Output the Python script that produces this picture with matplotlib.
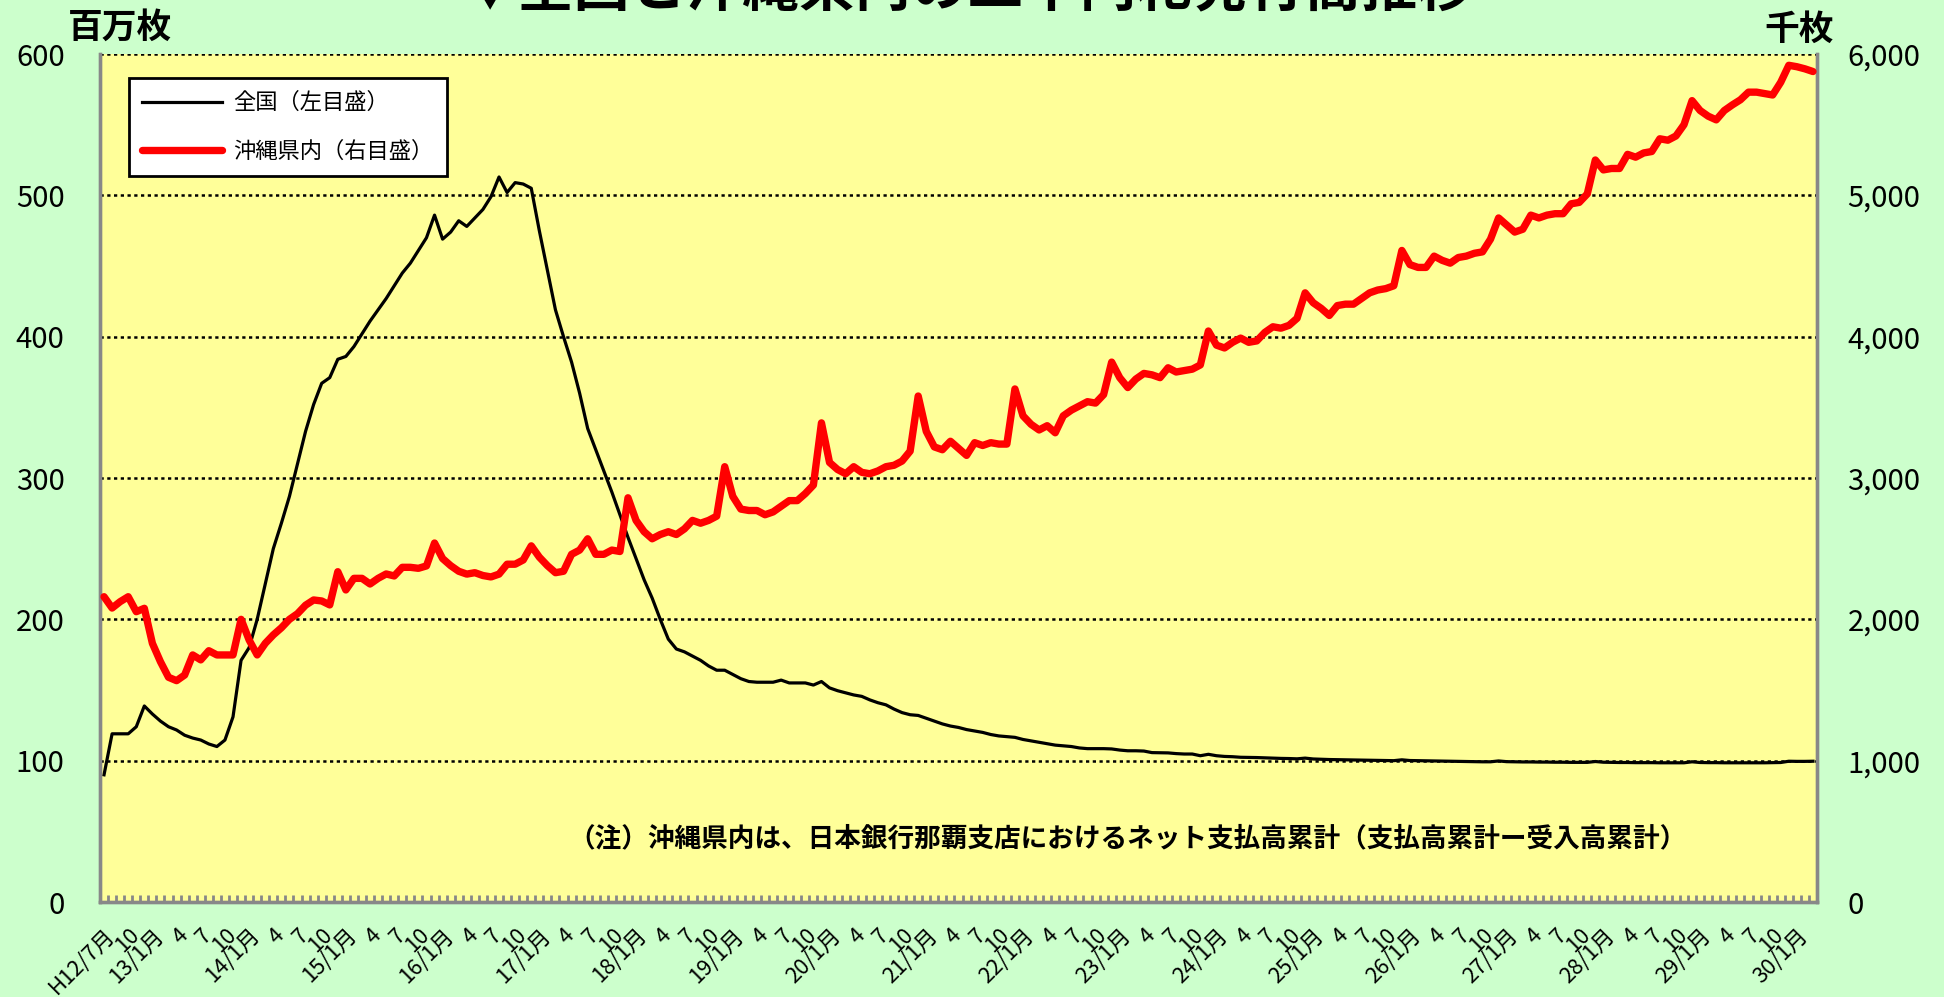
import numpy as np
import matplotlib
matplotlib.use("Agg")
import matplotlib.pyplot as plt
from matplotlib.lines import Line2D

plt.rcParams['font.family'] = ['Noto Sans CJK JP', 'DejaVu Sans']

# ---------------- data ----------------
start_year_heisei = 12   # H12
start_month = 7
n_months = 213           # H12/7 .. H30/3

# 全国 (左目盛, 百万枚)
national = [
    90, 119, 119, 119, 124, 138.7, 133, 128, 124, 121.7, 118, 116, 114.6, 111.8, 110, 114.6, 131,
    171, 180, 200, 225, 250, 268, 287, 310, 333, 352, 367, 371,
    384, 386, 393, 402, 411, 419, 427, 436, 445, 452, 461, 470,
    486, 469, 474, 482, 478, 484, 490, 499, 513, 502, 509, 508,
    505, 475, 447, 419, 400, 382, 360, 335, 320, 305, 290, 274,
    258, 243, 228, 215, 200, 186, 179, 177, 174, 171, 167, 164,
    164, 161, 158, 156, 155.5, 155.5, 155.5, 157, 155, 155, 155, 153.5,
    156, 151.5, 149.5, 148, 146.5, 145.5, 143, 141, 139.5, 136.5, 134, 132.5,
    132, 130, 128, 126, 124.5, 123.5, 122, 121, 120, 118.5, 117.5, 117,
    116.5, 115, 114, 113, 112, 111, 110.5, 110, 109, 108.5, 108.5, 108.5,
    108.3, 107.5, 107, 107, 106.8, 105.7, 105.6, 105.5, 105, 104.7, 104.7, 103.5,
    104.5, 103.5, 103, 102.8, 102.4, 102.3, 102.2, 102, 101.8, 101.6, 101.5, 101.3,
    101.8, 101.2, 101, 100.8, 100.7, 100.6, 100.5, 100.4, 100.3, 100.2, 100.1, 100,
    100.6, 100.1, 100, 99.9, 99.8, 99.7, 99.6, 99.5, 99.4, 99.3, 99.2, 99.2,
    99.8, 99.3, 99.2, 99.1, 99.1, 99.0, 99.0, 98.9, 98.9, 98.8, 98.8, 98.8,
    99.4, 98.9, 98.8, 98.7, 98.7, 98.6, 98.6, 98.6, 98.5, 98.5, 98.5, 98.5,
    99.2, 98.7, 98.6, 98.6, 98.5, 98.5, 98.5, 98.5, 98.5, 98.5, 98.6, 98.7,
    99.6, 99.5, 99.5, 99.6,
]

# 沖縄県内 (右目盛, 千枚)
okinawa = [
    2160, 2080, 2125, 2160, 2054, 2078, 1830, 1700, 1590, 1566, 1606, 1748, 1713, 1778, 1748, 1748, 1748,
    2000, 1854, 1748, 1830, 1890, 1940, 2000, 2040, 2100, 2137, 2130, 2102,
    2337, 2208, 2290, 2290, 2250, 2290, 2321, 2307, 2368, 2368, 2361, 2378,
    2540, 2430, 2380, 2340, 2320, 2330, 2310, 2300, 2320, 2390, 2390, 2420,
    2520, 2440, 2380, 2330, 2340, 2460, 2490, 2570, 2460, 2460, 2490, 2480,
    2860, 2700, 2620, 2570, 2600, 2620, 2600, 2640, 2700, 2680, 2700, 2730,
    3080, 2870, 2780, 2770, 2770, 2740, 2760, 2800, 2840, 2840, 2890, 2950,
    3390, 3110, 3060, 3030, 3080, 3040, 3030, 3050, 3080, 3090, 3120, 3190,
    3580, 3330, 3220, 3200, 3260, 3210, 3160, 3250, 3230, 3250, 3240, 3240,
    3630, 3440, 3380, 3340, 3370, 3320, 3440, 3480, 3510, 3540, 3530, 3590,
    3820, 3710, 3640, 3700, 3740, 3730, 3710, 3780, 3750, 3760, 3770, 3800,
    4040, 3940, 3920, 3960, 3990, 3960, 3970, 4030, 4070, 4060, 4080, 4130,
    4310, 4240, 4200, 4150, 4220, 4230, 4230, 4270, 4310, 4330, 4340, 4360,
    4610, 4510, 4490, 4490, 4570, 4540, 4520, 4560, 4570, 4590, 4600, 4690,
    4840, 4790, 4740, 4760, 4860, 4840, 4860, 4870, 4870, 4940, 4950, 5010,
    5250, 5180, 5190, 5190, 5290, 5270, 5300, 5310, 5400, 5390, 5420, 5500,
    5670, 5600, 5560, 5534, 5600, 5640, 5676, 5730, 5730, 5720, 5710, 5800,
    5920, 5910, 5895, 5876,
]

left_ticks = [0, 100, 200, 300, 400, 500, 600]
right_ticks = [0, 1000, 2000, 3000, 4000, 5000, 6000]

title = "▼全国と沖縄県内の二千円札発行高推移"
note = "（注）沖縄県内は、日本銀行那覇支店におけるネット支払高累計（支払高累計ー受入高累計）"
label_national = "全国（左目盛）"
label_okinawa = "沖縄県内（右目盛）"

# x tick labels (every 3 months)
xlabels = []
for i in range(n_months):
    m = (start_month - 1 + i) % 12 + 1
    y = start_year_heisei + (start_month - 1 + i) // 12
    if i % 3 != 0:
        continue
    if i == 0:
        xlabels.append((i, f"H{y}/{m}月"))
    elif m == 1:
        xlabels.append((i, f"{y}/1月"))
    else:
        xlabels.append((i, f"{m}"))

# ---------------- figure ----------------
W, H = 1944, 997
fig = plt.figure(figsize=(W / 100, H / 100), dpi=100)
fig.patch.set_facecolor('#CCFFCC')

L, R, T, B = 100, 1817, 54, 902
ax = fig.add_axes([L / W, 1 - B / H, (R - L) / W, (B - T) / H])
ax.set_facecolor('#FFFF99')
ax2 = ax.twinx()

x = np.arange(n_months)
ax.plot(x, national, color='black', lw=2.3, solid_joinstyle='round', zorder=3)
ax2.plot(x, okinawa, color='#FF0000', lw=5.3, solid_joinstyle='round',
         solid_capstyle='round', zorder=3)

ax.set_xlim(-0.5, n_months - 0.5)
ax.set_ylim(0, 600)
ax2.set_ylim(0, 6000)

for yv in left_ticks[1:]:
    ax.axhline(yv, color='black', lw=1.8, ls=(0, (1.3, 1.4)), zorder=1)

ax.set_yticks(left_ticks)
ax.set_yticklabels([str(v) for v in left_ticks], fontsize=21)
ax2.set_yticks(right_ticks)
ax2.set_yticklabels([f"{v:,}" for v in right_ticks], fontsize=21)
ax.tick_params(axis='y', length=0, pad=25.5)
ax2.tick_params(axis='y', length=0, pad=22)

ax.set_xticks([p for p, _ in xlabels])
ax.set_xticklabels([t for _, t in xlabels], rotation=45, ha='right', va='top',
                   rotation_mode='anchor', fontsize=15.8)
ax.tick_params(axis='x', which='major', length=0, pad=16)
ax.set_xticks(np.arange(-0.5, n_months, 1), minor=True)
ax.tick_params(axis='x', which='minor', direction='in', length=5, width=2, color='#888888')

for a in (ax, ax2):
    a.spines['top'].set_visible(False)
    for s in ('left', 'right', 'bottom'):
        a.spines[s].set_color('#888888')
        a.spines[s].set_linewidth(2.4)
ax2.patch.set_visible(False)

handles = [Line2D([], [], color='black', lw=2.3),
           Line2D([], [], color='#FF0000', lw=5.3, solid_capstyle='round')]
leg = ax2.legend(handles, [label_national, label_okinawa], loc='upper left',
                 bbox_to_anchor=((129 - L) / (R - L), (B - 78) / (B - T)), borderaxespad=0,
                 fontsize=16, handlelength=3.6, handletextpad=0.5, labelspacing=1.15,
                 borderpad=0.6, fancybox=False, framealpha=1, facecolor='white',
                 edgecolor='black')
leg.get_frame().set_linewidth(2)
leg.set_zorder(5)

ax2.text((1127 - L) / (R - L), (B - 839) / (B - T), note, transform=ax2.transAxes,
         ha='center', va='center', fontsize=19.2, fontweight='bold', zorder=6)

fig.text(68 / W, 1 - 45 / H, "百万枚", fontsize=25, fontweight='bold', ha='left', va='bottom')
fig.text(1834 / W, 1 - 47 / H, "千枚", fontsize=25, fontweight='bold', ha='right', va='bottom')
fig.text(968 / W, 1 - 18 / H, title, fontsize=40.5, fontweight='bold', ha='center', va='bottom')

fig.savefig('out.png', dpi=100, facecolor=fig.get_facecolor())
